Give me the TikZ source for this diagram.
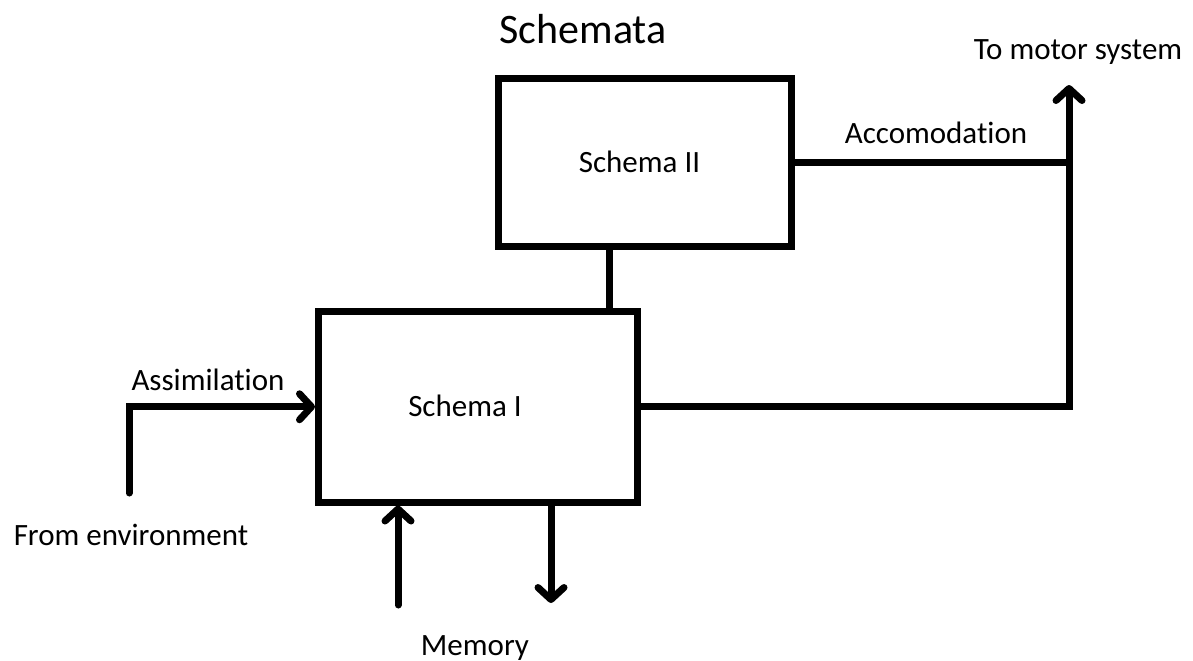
\documentclass[tikz,border=0pt]{standalone}
\usepackage{fontspec}
\setmainfont[Ligatures=NoCommon]{Carlito}
\usepackage{tikz}
\usetikzlibrary{arrows.meta}
\newcommand{\lbl}{\fontsize{15.5}{18}\selectfont}
\newcommand{\ttl}{\fontsize{21}{25}\selectfont}
\tikzstyle{line}=[black, line width=3.5pt, line cap=round]
\tikzstyle{schemabox}=[draw=black, line width=3.5pt, inner sep=0pt]
\tikzstyle{txt}=[anchor=base, inner sep=0pt, font=\lbl]
\tikzstyle{arrow}=[line, -{Straight Barb[length=6pt, width=13pt, line cap=round, line join=round]}]

\begin{document}
\begin{tikzpicture}[x=0.5pt, y=-0.5pt]
  \useasboundingbox (0,0) rectangle (1193,660);

  \node [txt, font=\ttl] (title) at (583,43) {Schemata};

  \node [schemabox, minimum width=146.25pt, minimum height=83.75pt] (two) at (644.75,162.25) {};
  \node [txt] (twolbl) at (639.5,172) {Schema II};
  \node [schemabox, minimum width=159.25pt, minimum height=95.25pt] (one) at (477.75,406.75) {};
  \node [txt] (onelbl) at (465,416) {Schema I};

  \coordinate (env) at (129,493);
  \coordinate (motor) at (1069,85);
  \coordinate (link) at (609.5,0);
  \coordinate (memin) at (398,605);
  \coordinate (memout) at (551,603);

  \node [txt] (assim) at (208,390) {Assimilation};
  \node [txt] (fromenv) at (131,545) {From environment};
  \node [txt] (accom) at (936,143) {Accomodation};
  \node [txt] (tomotor) at (1078,59) {To motor system};
  \node [txt] (memory) at (475,655) {Memory};

  \draw [arrow] (env) |- (one.west);
  \draw [line] (two.south -| link) -- (one.north -| link);
  \draw [line] (two.east) -- (two.east -| motor);
  \draw [arrow] (one.east) -| (motor);
  \draw [arrow] (memin) -- (memin |- one.south);
  \draw [arrow] (memout |- one.south) -- (memout);
\end{tikzpicture}
\end{document}
